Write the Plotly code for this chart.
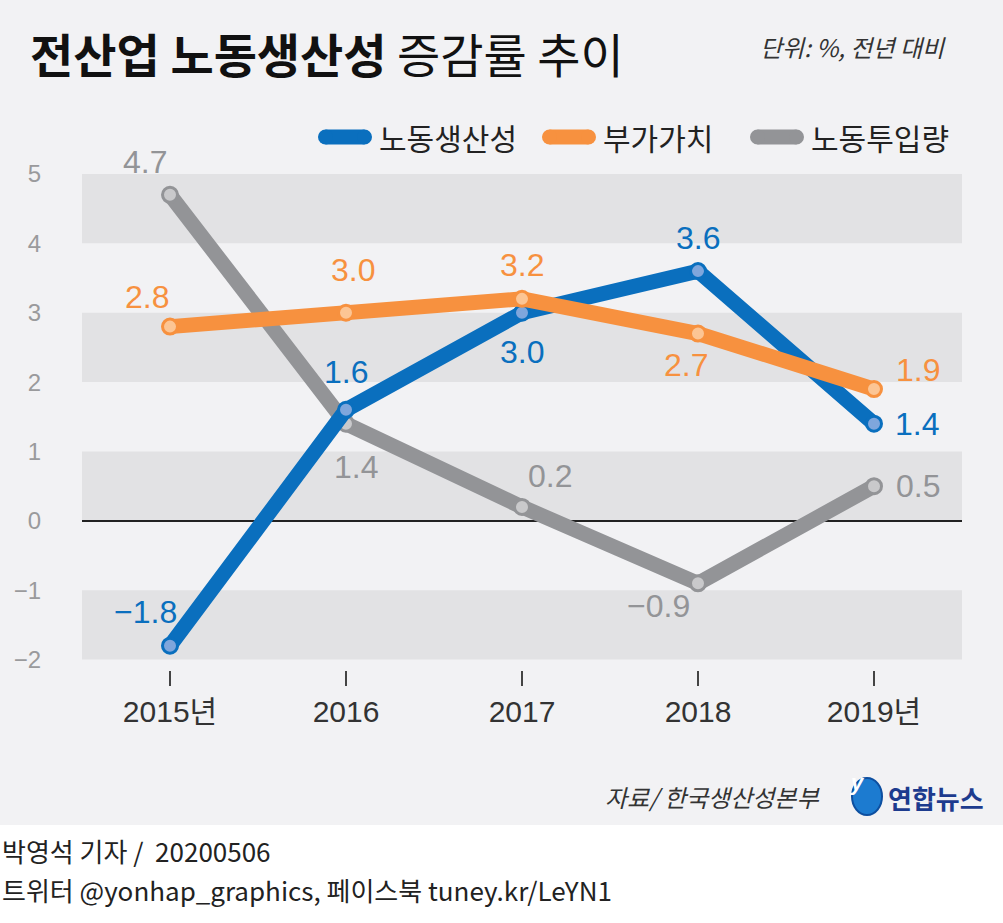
import plotly.graph_objects as go

# data
years = ["2015년", "2016", "2017", "2018", "2019년"]
productivity = [-1.8, 1.6, 3.0, 3.6, 1.4]    # 노동생산성
value_added = [2.8, 3.0, 3.2, 2.7, 1.9]      # 부가가치
labor_input = [4.7, 1.4, 0.2, -0.9, 0.5]     # 노동투입량
y_ticks = [-2, -1, 0, 1, 2, 3, 4, 5]

# label offsets in pixels (dx, dy up)
off_prod = [(-25, 34), (0, 38), (0, -39), (0, 33), (43, 0)]
off_va = [(-23, 30), (7, 43), (0, 34), (-12, -31), (44, 19)]
off_li = [(-25, 33), (10, -43), (28, 31), (-40, -23), (44, 0)]

BG = "#f2f2f4"
BAND = "#e2e2e4"
BLUE, BLUE_L = "#0a6fbe", "#7fa6dc"
ORANGE, ORANGE_L = "#f7913f", "#fcc594"
GRAY, GRAY_L = "#939497", "#c9c9cb"
FONT = "Noto Sans CJK KR, sans-serif"
NUM = "Liberation Sans, Noto Sans CJK KR, sans-serif"

# pixel -> paper helpers (plot area is x 82..962, y 174..670)
L, R, T, B = 82, 962, 174, 670


def px(x):
    return (x - L) / (R - L)


def py(y):
    return (B - y) / (B - T)


def fmt(v):
    return f"{v:.1f}".replace("-", "−")


fig = go.Figure()
series = [
    ("노동투입량", labor_input, GRAY, GRAY_L, off_li),
    ("노동생산성", productivity, BLUE, BLUE_L, off_prod),
    ("부가가치", value_added, ORANGE, ORANGE_L, off_va),
]
for name, vals, col, light, offs in series:
    fig.add_trace(go.Scatter(
        x=years, y=vals, name=name, mode="lines+markers",
        line=dict(color=col, width=15),
        marker=dict(size=15, color=light, line=dict(color=col, width=3)),
        showlegend=False, cliponaxis=False, hoverinfo="skip",
    ))
    # category index for annotations (year strings would be read as numbers)
    for i, (yv, (dx, dy)) in enumerate(zip(vals, offs)):
        fig.add_annotation(x=i, y=yv, text=fmt(yv), showarrow=False,
                           xshift=dx, yshift=dy,
                           font=dict(size=32, color=col, family=NUM))

# background bands
for lo in [4, 2, 0, -2]:
    fig.add_shape(type="rect", xref="paper", yref="y", x0=0, x1=1,
                  y0=lo, y1=lo + 1, fillcolor=BAND, line_width=0, layer="below")

# custom legend
legend = [("노동생산성", BLUE, 318), ("부가가치", ORANGE, 542), ("노동투입량", GRAY, 750)]
for name, col, x0 in legend:
    w, h = 54, 15
    for sx0, sx1, kind in [(h / 2, w - h / 2, "rect"), (0, h, "circle"), (w - h, w, "circle")]:
        fig.add_shape(type=kind, xref="paper", yref="paper",
                      xsizemode="pixel", ysizemode="pixel",
                      xanchor=px(x0), yanchor=py(137),
                      x0=sx0, x1=sx1, y0=-h / 2, y1=h / 2,
                      fillcolor=col, line_width=0)
    fig.add_annotation(xref="paper", yref="paper", x=px(x0 + w + 5), y=py(137),
                       xanchor="left", yanchor="middle", text=name, showarrow=False,
                       font=dict(size=30, color="#222", family=FONT))

# white footer strip
fig.add_shape(type="rect", xref="paper", yref="paper", x0=px(-5), x1=px(1010),
              y0=py(930), y1=py(825), fillcolor="white", line_width=0, layer="above")

# title, unit, source, byline
fig.add_annotation(xref="paper", yref="paper", x=px(28), y=py(52),
                   xanchor="left", yanchor="middle", showarrow=False,
                   text="<b>전산업 노동생산성</b> 증감률 추이",
                   font=dict(size=47, color="#111", family=FONT))
fig.add_annotation(xref="paper", yref="paper", x=px(948), y=py(46),
                   xanchor="right", yanchor="middle", showarrow=False,
                   text="<i>단위: %, 전년 대비</i>",
                   font=dict(size=24, color="#333", family=FONT))
fig.add_annotation(xref="paper", yref="paper", x=px(822), y=py(796),
                   xanchor="right", yanchor="middle", showarrow=False,
                   text="<i>자료/ 한국생산성본부</i>",
                   font=dict(size=24, color="#333", family=FONT))
fig.add_shape(type="circle", xref="paper", yref="paper", x0=px(852), x1=px(882),
              y0=py(815), y1=py(778), fillcolor="#1c7bd0", line=dict(color="#0d4fa0", width=2))
fig.add_annotation(xref="paper", yref="paper", x=px(867), y=py(797),
                   showarrow=False, text="<i><b>y</b></i>",
                   font=dict(size=22, color="white", family=NUM))
fig.add_annotation(xref="paper", yref="paper", x=px(886), y=py(797),
                   xanchor="left", yanchor="middle", showarrow=False,
                   text="<b>연합뉴스</b>",
                   font=dict(size=26, color="#1d3b8e", family=FONT))
fig.add_annotation(xref="paper", yref="paper", x=px(0), y=py(850),
                   xanchor="left", yanchor="middle", showarrow=False,
                   text="박영석 기자 /  20200506",
                   font=dict(size=26, color="#222", family=FONT))
fig.add_annotation(xref="paper", yref="paper", x=px(0), y=py(889),
                   xanchor="left", yanchor="middle", showarrow=False,
                   text="트위터 @yonhap_graphics, 페이스북 tuney.kr/LeYN1",
                   font=dict(size=26, color="#222", family=FONT))

fig.update_layout(
    width=1003, height=923,
    margin=dict(l=L, r=1003 - R, t=T, b=923 - B),
    paper_bgcolor=BG, plot_bgcolor=BG,
    font=dict(family=NUM),
    xaxis=dict(type="category", range=[-0.5, 4.5], showgrid=False, showline=False,
               zeroline=False, ticks="outside", ticklen=15, tickwidth=2,
               tickcolor="#444", tickfont=dict(size=30, color="#333"),
               fixedrange=True),
    yaxis=dict(range=[-2.15, 5.0], tickvals=y_ticks,
               ticktext=[str(t).replace("-", "−") for t in y_ticks],
               showgrid=False, showline=False, zeroline=True,
               zerolinecolor="#222", zerolinewidth=1.5,
               tickfont=dict(size=24, color="#9a9a9c"), ticklabelstandoff=40,
               fixedrange=True),
)

fig.write_html("out.html", config={"displayModeBar": False},
               post_script="document.body.style.margin='0';")
